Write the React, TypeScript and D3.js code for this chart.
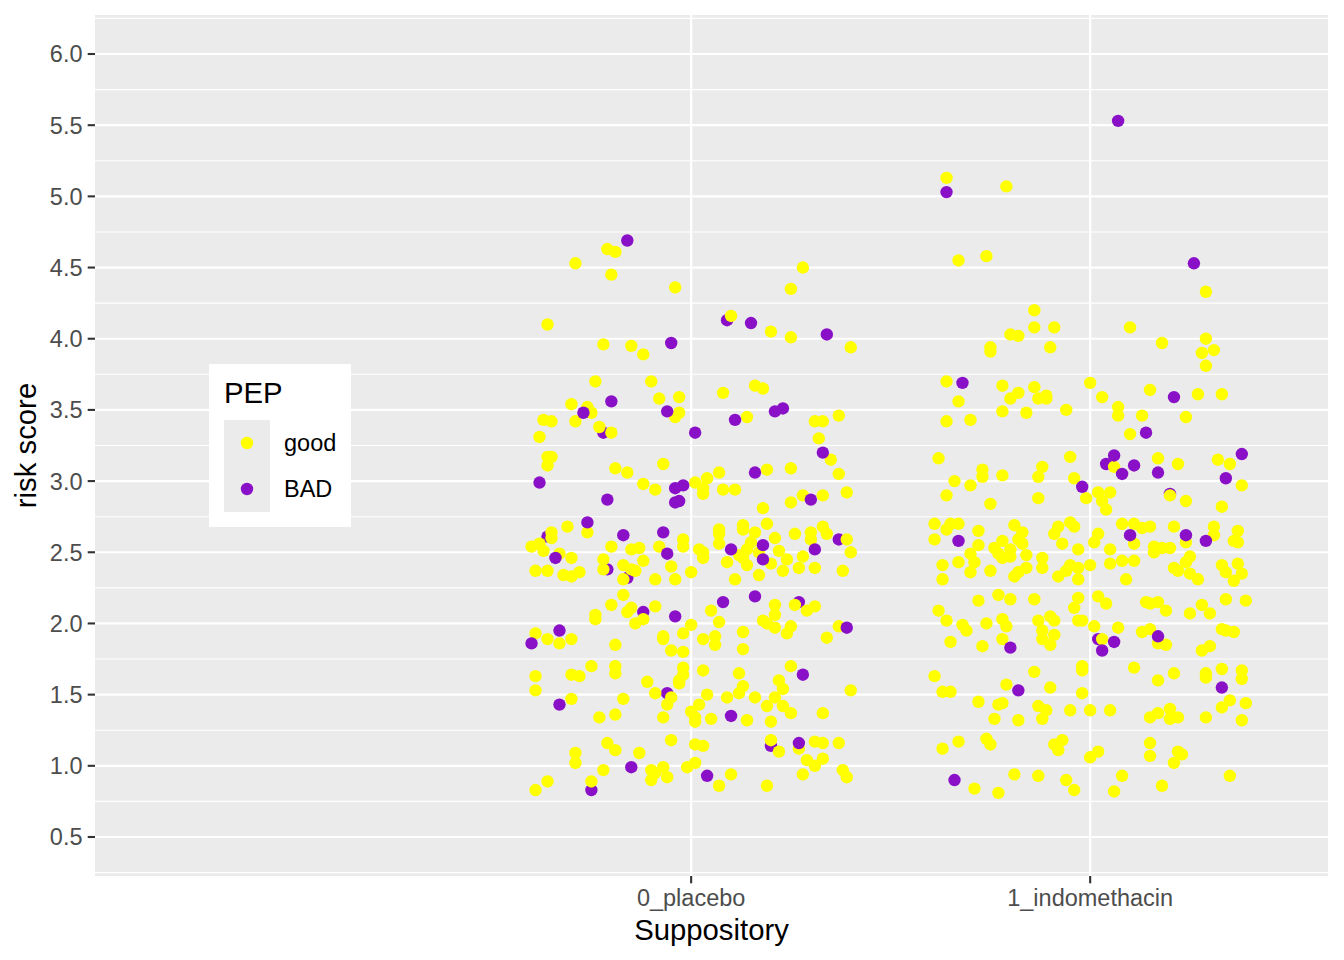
import React from "react";
import * as d3 from "d3";

// ---- data ----
const categories = ["0_placebo", "1_indomethacin"];
const pepLevels = ["good", "BAD"];
const pepColors = ["#FFFF00", "#8A10C8"];
const yTicks = [0.5, 1.0, 1.5, 2.0, 2.5, 3.0, 3.5, 4.0, 4.5, 5.0, 5.5, 6.0];
const yMinor = [0.25, 0.75, 1.25, 1.75, 2.25, 2.75, 3.25, 3.75, 4.25, 4.75, 5.25, 5.75, 6.25];

// [jitter offset from category, risk score, PEP index]
const placeboPoints: [number, number, number][] = [
  [0.09,4.13,1],[-0.22,3.34,1],[-0.36,2.61,1],[-0.21,2.38,1],[-0.16,2.32,1],[-0.25,0.83,1],[-0.12,2.08,1],[-0.06,1.51,1],[0.20,1.14,1],[0.27,2.15,1],[0.37,2.59,1],
  [-0.21,4.63,0],[-0.19,4.61,0],[-0.29,4.53,0],[-0.20,4.45,0],[-0.04,4.36,0],[0.28,4.50,0],[0.25,4.35,0],[-0.36,4.10,0],[0.10,4.16,0],[0.20,4.05,0],[0.25,4.01,0],[0.40,3.94,0],[-0.22,3.96,0],[-0.15,3.95,0],[-0.12,3.89,0],[-0.24,3.70,0],[-0.10,3.70,0],[-0.30,3.54,0],[-0.26,3.52,0],[-0.25,3.48,0],[-0.08,3.58,0],[-0.03,3.59,0],[-0.03,3.48,0],[-0.04,3.45,0],[0.08,3.62,0],[0.16,3.67,0],[0.18,3.65,0],[0.14,3.45,0],[0.37,3.46,0],[0.31,3.42,0],[0.33,3.42,0],[-0.37,3.43,0],[-0.35,3.42,0],[-0.29,3.42,0],
  [-0.23,3.38,0],[-0.20,3.34,0],[-0.38,3.31,0],[0.32,3.30,0],[0.35,3.15,0],[0.37,3.05,0],[0.39,2.92,0],[-0.36,3.17,0],[-0.35,3.17,0],[-0.36,3.11,0],[-0.19,3.09,0],[-0.16,3.06,0],[-0.07,3.12,0],[-0.12,2.98,0],[-0.09,2.94,0],[0.01,2.99,0],[0.04,3.02,0],[0.03,2.95,0],[0.03,2.91,0],[0.07,3.06,0],[0.08,2.94,0],[0.11,2.94,0],[0.19,3.08,0],[0.25,3.09,0],[0.28,2.90,0],[0.25,2.85,0],[0.33,2.90,0],[0.18,2.81,0],
  [-0.26,2.64,0],[-0.31,2.68,0],[-0.35,2.64,0],[-0.35,2.60,0],[-0.40,2.54,0],[-0.38,2.56,0],[-0.37,2.51,0],[-0.33,2.49,0],[-0.30,2.46,0],[-0.39,2.37,0],[-0.36,2.37,0],[-0.32,2.34,0],[-0.30,2.33,0],[-0.28,2.36,0],
  [-0.20,2.54,0],[-0.15,2.52,0],[-0.13,2.53,0],[-0.08,2.54,0],[-0.12,2.44,0],[-0.22,2.45,0],[-0.22,2.38,0],[-0.17,2.41,0],[-0.15,2.38,0],[-0.14,2.37,0],[-0.17,2.31,0],[-0.09,2.31,0],[-0.05,2.40,0],[-0.04,2.31,0],[-0.02,2.59,0],[-0.02,2.54,0],[0.00,2.36,0],[0.02,2.52,0],[0.03,2.50,0],[0.03,2.46,0],
  [0.07,2.66,0],[0.07,2.63,0],[0.07,2.56,0],[0.13,2.69,0],[0.13,2.66,0],[0.16,2.64,0],[0.19,2.70,0],[0.21,2.60,0],[0.15,2.57,0],[0.14,2.52,0],[0.12,2.48,0],[0.13,2.46,0],[0.17,2.50,0],[0.20,2.42,0],[0.09,2.43,0],[0.14,2.41,0],[0.11,2.31,0],[0.17,2.34,0],[0.22,2.51,0],[0.24,2.45,0],[0.23,2.37,0],[0.26,2.63,0],[0.30,2.64,0],[0.30,2.59,0],[0.28,2.47,0],[0.27,2.39,0],[0.31,2.39,0],[0.33,2.68,0],[0.34,2.63,0],[0.39,2.59,0],[0.40,2.50,0],[0.38,2.37,0],
  [-0.17,2.20,0],[-0.20,2.13,0],[-0.15,2.11,0],[-0.16,2.08,0],[-0.09,2.12,0],[-0.24,2.06,0],[0.05,2.09,0],[0.21,2.13,0],[0.26,2.13,0],[0.29,2.09,0],[0.31,2.12,0],[0.21,2.06,0],
  [-0.24,2.03,0],[-0.12,2.03,0],[-0.14,2.00,0],[0.00,1.99,0],[0.07,2.01,0],[0.18,2.02,0],[0.19,2.00,0],[0.21,1.97,0],[0.25,1.98,0],[0.24,1.93,0],[0.37,1.98,0],[0.34,1.90,0],
  [-0.39,1.93,0],[-0.36,1.89,0],[-0.33,1.86,0],[-0.30,1.89,0],[-0.19,1.85,0],[-0.07,1.91,0],[-0.07,1.89,0],[-0.02,1.93,0],[-0.05,1.81,0],[-0.02,1.80,0],[0.03,1.89,0],[0.06,1.91,0],[0.06,1.85,0],[0.13,1.94,0],[0.13,1.82,0],
  [-0.39,1.63,0],[-0.39,1.53,0],[-0.30,1.64,0],[-0.28,1.63,0],[-0.25,1.70,0],[-0.19,1.70,0],[-0.19,1.65,0],[-0.30,1.47,0],[-0.23,1.34,0],[-0.19,1.36,0],[-0.17,1.47,0],[-0.11,1.59,0],[-0.09,1.51,0],[-0.05,1.48,0],[-0.06,1.43,0],[-0.07,1.34,0],[-0.02,1.69,0],[-0.02,1.64,0],[-0.03,1.60,0],[-0.03,1.58,0],[0.03,1.67,0],[0.04,1.50,0],[0.02,1.43,0],[0.00,1.38,0],[0.01,1.34,0],[0.01,1.31,0],[0.05,1.33,0],[0.09,1.48,0],[0.14,1.32,0],[0.12,1.65,0],[0.13,1.56,0],[0.12,1.51,0],[0.16,1.48,0],[0.20,1.31,0],[0.25,1.70,0],[0.22,1.60,0],[0.23,1.54,0],[0.21,1.48,0],[0.19,1.42,0],[0.23,1.42,0],[0.25,1.37,0],[0.33,1.37,0],[0.40,1.53,0],
  [-0.29,1.09,0],[-0.29,1.02,0],[-0.21,1.16,0],[-0.19,1.11,0],[-0.13,1.09,0],[-0.05,1.18,0],[-0.22,0.97,0],[-0.10,0.97,0],[-0.09,0.95,0],[-0.10,0.90,0],[-0.07,0.99,0],[-0.06,0.92,0],[-0.01,0.99,0],[0.01,1.02,0],[0.01,1.15,0],[0.03,1.14,0],[-0.36,0.89,0],[-0.39,0.83,0],[-0.25,0.89,0],[0.10,0.94,0],[0.07,0.86,0],[0.19,0.86,0],[0.20,1.18,0],[0.22,1.10,0],[0.27,1.12,0],[0.31,1.17,0],[0.33,1.16,0],[0.37,1.16,0],[0.29,1.04,0],[0.31,1.00,0],[0.33,1.05,0],[0.28,0.94,0],[0.38,0.97,0],[0.39,0.92,0],
  [-0.16,4.69,1],[0.15,4.11,1],[0.34,4.03,1],[-0.05,3.97,1],[-0.20,3.56,1],[-0.27,3.48,1],[-0.06,3.49,1],[0.21,3.49,1],[0.23,3.51,1],[0.11,3.43,1],[0.01,3.34,1],[0.33,3.20,1],[-0.38,2.99,1],[-0.21,2.87,1],[-0.04,2.95,1],[-0.02,2.97,1],[-0.04,2.85,1],[-0.03,2.86,1],[0.16,3.06,1],[0.30,2.87,1],[-0.26,2.71,1],[-0.34,2.46,1],[-0.17,2.62,1],[-0.07,2.64,1],[-0.06,2.49,1],[0.10,2.52,1],[0.18,2.55,1],[0.18,2.45,1],[0.31,2.52,1],[-0.04,2.05,1],[0.08,2.15,1],[0.16,2.19,1],[0.39,1.97,1],[-0.33,1.95,1],[-0.40,1.86,1],[-0.33,1.43,1],[0.10,1.35,1],[0.28,1.64,1],[-0.15,0.99,1],[0.04,0.93,1],[0.27,1.16,1],
];

const indomethacinPoints: [number, number, number][] = [
  [0.20,2.91,1],[0.04,3.12,1],[0.02,1.89,1],
  [-0.36,5.13,0],[-0.21,5.07,0],[-0.33,4.55,0],[-0.26,4.58,0],[0.29,4.33,0],
  [-0.14,4.20,0],[-0.14,4.08,0],[-0.09,4.08,0],[-0.20,4.03,0],[-0.18,4.02,0],[-0.25,3.94,0],[-0.25,3.91,0],[-0.10,3.94,0],[0.10,4.08,0],[0.18,3.97,0],[0.29,4.00,0],[0.28,3.90,0],[0.31,3.92,0],[0.29,3.81,0],
  [-0.36,3.70,0],[-0.33,3.56,0],[-0.36,3.42,0],[-0.30,3.43,0],[-0.22,3.67,0],[-0.18,3.62,0],[-0.20,3.58,0],[-0.14,3.66,0],[-0.13,3.58,0],[-0.11,3.60,0],[-0.11,3.58,0],[-0.22,3.49,0],[-0.16,3.48,0],[-0.06,3.50,0],[0.00,3.69,0],[0.03,3.59,0],[0.07,3.52,0],[0.07,3.46,0],[0.13,3.46,0],[0.10,3.33,0],[0.15,3.64,0],[0.27,3.61,0],[0.33,3.61,0],[0.24,3.45,0],
  [-0.38,3.16,0],[-0.27,3.08,0],[-0.27,3.03,0],[-0.34,3.00,0],[-0.30,2.97,0],[-0.22,3.04,0],[-0.13,3.03,0],[-0.12,3.10,0],[-0.05,3.17,0],[-0.04,3.02,0],[0.06,3.10,0],[0.17,3.16,0],[0.22,3.12,0],[0.32,3.15,0],[0.35,3.12,0],[0.38,2.97,0],
  [-0.36,2.90,0],[-0.25,2.84,0],[-0.13,2.88,0],[-0.01,2.88,0],[0.02,2.92,0],[0.03,2.86,0],[0.04,2.80,0],[0.05,2.92,0],[0.20,2.90,0],[0.24,2.86,0],[0.33,2.82,0],
  [-0.39,2.70,0],[-0.36,2.66,0],[-0.35,2.70,0],[-0.33,2.70,0],[-0.39,2.59,0],[-0.28,2.65,0],[-0.28,2.55,0],[-0.30,2.49,0],[-0.29,2.43,0],[-0.33,2.43,0],[-0.37,2.41,0],[-0.37,2.31,0],[-0.30,2.36,0],[-0.25,2.37,0],
  [-0.19,2.69,0],[-0.17,2.64,0],[-0.22,2.58,0],[-0.18,2.59,0],[-0.17,2.56,0],[-0.24,2.53,0],[-0.23,2.49,0],[-0.20,2.52,0],[-0.22,2.46,0],[-0.20,2.47,0],[-0.16,2.48,0],[-0.12,2.46,0],[-0.12,2.39,0],[-0.19,2.33,0],[-0.18,2.36,0],[-0.16,2.39,0],
  [-0.08,2.68,0],[-0.09,2.63,0],[-0.05,2.71,0],[-0.04,2.68,0],[-0.07,2.56,0],[-0.03,2.52,0],[-0.06,2.37,0],[-0.05,2.41,0],[-0.03,2.39,0],[-0.08,2.33,0],[-0.03,2.31,0],[0.00,2.41,0],[0.02,2.63,0],[0.01,2.57,0],[0.05,2.52,0],[0.05,2.42,0],
  [0.08,2.70,0],[0.11,2.70,0],[0.13,2.67,0],[0.15,2.68,0],[0.11,2.56,0],[0.08,2.44,0],[0.11,2.44,0],[0.09,2.31,0],[0.16,2.54,0],[0.18,2.53,0],[0.16,2.50,0],[0.20,2.53,0],[0.21,2.68,0],[0.24,2.57,0],[0.25,2.47,0],[0.24,2.43,0],[0.21,2.39,0],[0.22,2.37,0],[0.25,2.35,0],[0.27,2.31,0],[0.31,2.68,0],[0.31,2.62,0],[0.37,2.65,0],[0.36,2.58,0],[0.37,2.57,0],[0.33,2.41,0],[0.37,2.42,0],[0.34,2.36,0],[0.38,2.35,0],[0.36,2.30,0],
  [-0.23,2.20,0],[-0.20,2.17,0],[-0.28,2.16,0],[-0.38,2.09,0],[-0.36,2.02,0],[-0.32,1.99,0],[-0.31,1.95,0],[-0.26,2.00,0],[-0.22,2.03,0],[-0.21,1.98,0],[-0.14,2.17,0],[-0.13,2.02,0],[-0.10,2.05,0],[-0.09,2.02,0],[-0.12,1.95,0],[-0.09,1.92,0],[-0.12,1.89,0],[-0.03,2.18,0],[-0.04,2.11,0],[-0.03,2.02,0],[-0.02,2.02,0],[0.01,1.98,0],[0.02,2.19,0],[0.04,2.14,0],[0.07,1.97,0],[0.03,1.89,0],[0.14,2.15,0],[0.15,2.14,0],[0.17,2.15,0],[0.19,2.09,0],[0.28,2.13,0],[0.25,2.07,0],[0.30,2.07,0],[0.34,2.17,0],[0.39,2.16,0],[0.13,1.94,0],[0.15,1.96,0],[0.33,1.96,0],[0.34,1.95,0],[0.36,1.94,0],
  [-0.35,1.87,0],[-0.27,1.84,0],[-0.22,1.89,0],[-0.10,1.85,0],[0.17,1.86,0],[0.19,1.85,0],[0.28,1.81,0],[0.30,1.84,0],
  [-0.39,1.63,0],[-0.37,1.52,0],[-0.35,1.52,0],[-0.28,1.45,0],[-0.23,1.43,0],[-0.22,1.44,0],[-0.24,1.33,0],[-0.21,1.57,0],[-0.14,1.66,0],[-0.10,1.55,0],[-0.18,1.32,0],[-0.13,1.42,0],[-0.11,1.39,0],[-0.12,1.33,0],[-0.05,1.39,0],[-0.02,1.70,0],[-0.02,1.67,0],[-0.02,1.51,0],[0.00,1.39,0],[0.05,1.39,0],[0.11,1.69,0],[0.17,1.60,0],[0.21,1.65,0],[0.15,1.34,0],[0.17,1.37,0],[0.20,1.40,0],[0.20,1.33,0],[0.22,1.34,0],[0.29,1.65,0],[0.29,1.62,0],[0.33,1.68,0],[0.38,1.67,0],[0.38,1.61,0],[0.35,1.46,0],[0.33,1.41,0],[0.39,1.44,0],[0.29,1.34,0],[0.38,1.32,0],
  [-0.37,1.12,0],[-0.33,1.17,0],[-0.26,1.19,0],[-0.25,1.15,0],[-0.09,1.15,0],[-0.07,1.18,0],[-0.08,1.11,0],[0.00,1.06,0],[0.02,1.10,0],[0.15,1.16,0],[0.15,1.07,0],[0.22,1.10,0],[0.23,1.08,0],[0.21,1.02,0],
  [-0.29,0.84,0],[-0.23,0.81,0],[-0.19,0.94,0],[-0.13,0.93,0],[-0.06,0.90,0],[-0.04,0.83,0],[0.08,0.93,0],[0.06,0.82,0],[0.18,0.86,0],[0.35,0.93,0],
  [0.07,5.53,1],[-0.36,5.03,1],[0.26,4.53,1],[-0.32,3.69,1],[0.14,3.34,1],[0.21,3.59,1],[-0.02,2.96,1],[0.06,3.18,1],[0.08,3.05,1],[0.11,3.11,1],[0.17,3.06,1],[0.38,3.19,1],[0.34,3.02,1],[-0.33,2.58,1],[0.10,2.62,1],[0.24,2.62,1],[0.29,2.58,1],[0.17,1.91,1],[0.06,1.87,1],[-0.20,1.83,1],[0.03,1.81,1],[-0.18,1.53,1],[0.33,1.55,1],[-0.34,0.90,1],
];

const groups = [placeboPoints, indomethacinPoints];

// ---- layout ----
const W = 1344, H = 960;
const panel = { left: 95, right: 1328, top: 15, bottom: 876 };
const FONT = "'Liberation Sans', Arial, Helvetica, sans-serif";

export default function App() {
  const x = d3.scaleLinear().domain([-0.494, 2.596]).range([panel.left, panel.right]);
  const y = d3.scaleLinear().domain([0.226, 6.274]).range([panel.bottom, panel.top]);
  const catPos = (i: number) => i + 1;

  return (
    <svg width={W} height={H} style={{ position: "absolute", left: 0, top: 0, background: "#fff" }} fontFamily={FONT}>
      <rect x={panel.left} y={panel.top} width={panel.right - panel.left} height={panel.bottom - panel.top} fill="#EBEBEB" />
      {yMinor.map((v) => (
        <line key={"mn" + v} x1={panel.left} x2={panel.right} y1={y(v)} y2={y(v)} stroke="#fff" strokeWidth={1.1} />
      ))}
      {yTicks.map((v) => (
        <line key={"mj" + v} x1={panel.left} x2={panel.right} y1={y(v)} y2={y(v)} stroke="#fff" strokeWidth={2.2} />
      ))}
      {categories.map((c, i) => (
        <line key={"vg" + c} x1={x(catPos(i))} x2={x(catPos(i))} y1={panel.top} y2={panel.bottom} stroke="#fff" strokeWidth={2.2} />
      ))}

      {groups.map((pts, gi) => (
        <g key={"g" + gi}>
          {pts.map((p, k) => (
            <circle key={k} cx={x(catPos(gi) + p[0])} cy={y(p[1])} r={6.2} fill={pepColors[p[2]]} />
          ))}
        </g>
      ))}

      {/* y axis */}
      {yTicks.map((v) => (
        <g key={"yt" + v}>
          <line x1={panel.left - 7.3} x2={panel.left} y1={y(v)} y2={y(v)} stroke="#333" strokeWidth={2.1} />
          <text x={panel.left - 12.5} y={y(v)} dy="0.36em" textAnchor="end" fontSize={23.5} fill="#4D4D4D">
            {v.toFixed(1)}
          </text>
        </g>
      ))}
      {/* x axis */}
      {categories.map((c, i) => (
        <g key={"xt" + c}>
          <line x1={x(catPos(i))} x2={x(catPos(i))} y1={panel.bottom} y2={panel.bottom + 7.3} stroke="#333" strokeWidth={2.1} />
          <text x={x(catPos(i))} y={906} textAnchor="middle" fontSize={23.5} fill="#4D4D4D">
            {c}
          </text>
        </g>
      ))}
      <text x={(panel.left + panel.right) / 2} y={940} textAnchor="middle" fontSize={29.3} fill="#000">
        Suppository
      </text>
      <text transform={`translate(36,${(panel.top + panel.bottom) / 2}) rotate(-90)`} textAnchor="middle" fontSize={29.3} fill="#000">
        risk score
      </text>

      {/* legend */}
      <rect x={209} y={364} width={142} height={163} fill="#fff" />
      <text x={224} y={403} fontSize={29.3} fill="#000">PEP</text>
      {pepLevels.map((lv, i) => (
        <g key={"lg" + lv}>
          <rect x={224} y={420 + i * 46} width={46} height={46} fill="#EBEBEB" />
          <circle cx={247} cy={443 + i * 46} r={6.2} fill={pepColors[i]} />
          <text x={284} y={443 + i * 46} dy="0.36em" fontSize={23.5} fill="#000">{lv}</text>
        </g>
      ))}
    </svg>
  );
}
